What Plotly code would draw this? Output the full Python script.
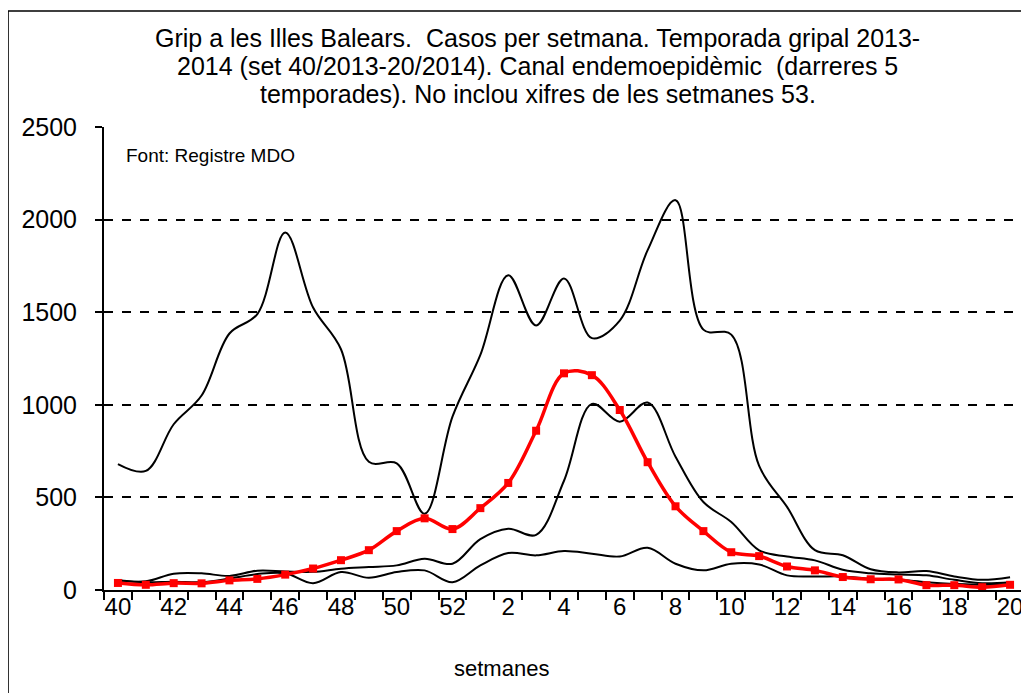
import plotly.graph_objects as go

weeks = [40, 41, 42, 43, 44, 45, 46, 47, 48, 49, 50, 51, 52,
         1, 2, 3, 4, 5, 6, 7, 8, 9, 10, 11, 12, 13, 14, 15, 16, 17, 18, 19, 20]

cases_2013_14 = [38, 28, 37, 36, 52, 60, 83, 116, 161, 215, 318, 387, 329,
                 442, 578, 860, 1170, 1160, 972, 690, 452, 318, 204, 183, 127,
                 106, 70, 58, 57, 26, 26, 15, 28]

upper = [680, 643, 895, 1050, 1385, 1490, 1930, 1525, 1300, 692, 684, 412, 936,
         1270, 1700, 1428, 1682, 1360, 1455, 1835, 2105, 1406, 1379, 670, 449,
         215, 188, 112, 95, 102, 73, 55, 69]

median = [52, 47, 88, 90, 76, 104, 100, 98, 115, 124, 133, 169, 142,
          275, 331, 298, 590, 1005, 909, 1012, 720, 475, 367, 214, 181,
          160, 109, 90, 84, 79, 55, 37, 42]

lower = [53, 42, 45, 42, 62, 86, 91, 37, 97, 66, 97, 106, 42,
         133, 200, 187, 210, 196, 181, 228, 142, 106, 142, 138, 79,
         73, 73, 61, 55, 42, 33, 28, 33]

title_lines = ["Grip a les Illes Balears.  Casos per setmana. Temporada gripal 2013-",
               "2014 (set 40/2013-20/2014). Canal endemoepidèmic  (darreres 5",
               "temporades). No inclou xifres de les setmanes 53."]

FONT = "Liberation Sans, Arial, sans-serif"

x = list(range(len(weeks)))
fig = go.Figure()

for series in (upper, median, lower):
    fig.add_trace(go.Scatter(
        x=x, y=series, mode="lines",
        line=dict(color="black", width=2, shape="spline", smoothing=1.0),
        showlegend=False, hoverinfo="skip"))

fig.add_trace(go.Scatter(
    x=x, y=cases_2013_14, mode="lines+markers",
    line=dict(color="#ff0000", width=3.5, shape="spline", smoothing=1.0),
    marker=dict(symbol="square", size=8, color="#ff0000"),
    showlegend=False))

tickvals = [i for i, w in enumerate(weeks) if w % 2 == 0]
ticktext = [str(weeks[i]) for i in tickvals]

fig.update_xaxes(
    range=[-0.5, len(weeks) - 0.5], automargin=False,
    tickmode="array", tickvals=tickvals, ticktext=ticktext,
    ticks="", showgrid=False, zeroline=False,
    showline=True, linecolor="black", linewidth=2,
    tickfont=dict(family=FONT, size=24, color="black"),
    ticklabelstandoff=-6,
    minor=dict(tickmode="array",
               tickvals=[i - 0.5 for i in range(len(weeks) + 1)],
               ticks="outside", ticklen=8, tickwidth=2, tickcolor="black",
               showgrid=False),
)

fig.update_yaxes(
    range=[0, 2500], tickmode="linear", tick0=0, dtick=500, automargin=False,
    ticks="outside", ticklen=7, tickwidth=2, tickcolor="black",
    showline=True, linecolor="black", linewidth=2,
    showgrid=True, gridcolor="black", gridwidth=1.5, griddash="dash",
    zeroline=False,
    tickfont=dict(family=FONT, size=25, color="black"),
    ticklabelstandoff=13,
)

# page body has an 8px default margin: work in window pixels, convert to figure pixels
OFF = 8
W, H = 1029 - OFF, 693 - OFF
L, R, T, B = 104, 1024.5, 127, 590   # plot area in window pixels
pw, ph = R - L, B - T

def px(xp):
    return (xp - L) / pw

def py(yp):
    return (B - yp) / ph

annotations = []
for k, line in enumerate(title_lines):
    annotations.append(dict(
        text=line, xref="paper", yref="paper",
        x=px(538), y=py(38 + 28 * k), xanchor="center", yanchor="middle",
        showarrow=False, font=dict(family=FONT, size=25, color="black")))

annotations += [
    dict(text="Font: Registre MDO", xref="paper", yref="paper",
         x=px(124), y=py(155), xanchor="left", yanchor="middle",
         showarrow=False, font=dict(family=FONT, size=19, color="black")),
    dict(text="setmanes", xref="paper", yref="paper",
         x=px(502), y=py(668), xanchor="center", yanchor="middle",
         showarrow=False, font=dict(family=FONT, size=22, color="black")),
]

fig.update_layout(
    width=W, height=H,
    margin=dict(l=L - OFF, r=(W + OFF) - R, t=T - OFF, b=(H + OFF) - B,
                pad=0, autoexpand=False),
    plot_bgcolor="white", paper_bgcolor="white",
    font=dict(family=FONT, color="black"),
    shapes=[
        dict(type="rect", xref="paper", yref="paper",
             x0=px(8), x1=px(1040), y0=py(710), y1=py(11),
             line=dict(color="black", width=1.5), layer="below"),
        dict(type="line", xref="paper", yref="paper",
             x0=1, x1=1, y0=0, y1=1, line=dict(color="black", width=2)),
    ],
    annotations=annotations,
)

fig.write_html("out.html")
